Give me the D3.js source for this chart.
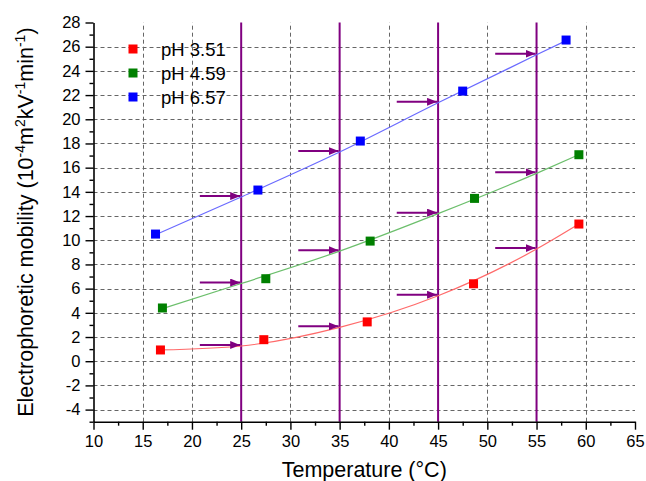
<!DOCTYPE html>
<html>
<head>
<meta charset="utf-8">
<script src="https://cdn.jsdelivr.net/npm/d3@7"></script>
<style>
  html, body { margin: 0; padding: 0; background: #fff; }
  svg { display: block; font-family: "Liberation Sans", Arial, sans-serif; }
</style>
</head>
<body>
<svg id="chart" width="646" height="481"></svg>
<script>
// ---- data ----
const seriesNames = ["pH 3.51", "pH 4.59", "pH 6.57"];
const seriesColors = ["#ff0000", "#008000", "#0000ff"];
const fitColors = ["#ff6a6a", "#6cbf6c", "#6a6aff"];

const tempRed = [16.8, 27.3, 37.8, 48.6, 59.3];
const mobRed = [0.93, 1.78, 3.25, 6.4, 11.34];
const tempGreen = [17.0, 27.5, 38.1, 48.7, 59.3];
const mobGreen = [4.4, 6.82, 9.93, 13.46, 17.07];
const tempBlue = [16.3, 26.7, 37.1, 47.5, 58.0];
const mobBlue = [10.51, 14.15, 18.2, 22.33, 26.55];

const fitTempRed = [16.8, 25, 35, 45, 55, 59.3];
const fitMobRed = [0.93, 1.26, 2.8, 5.41, 9.27, 11.34];
const fitTempGreen = [17.0, 25, 35, 45, 55, 59.3];
const fitMobGreen = [4.35, 6.42, 9.1, 12.2, 15.53, 17.07];
const fitTempBlue = [16.3, 25, 35, 45, 55, 58.0];
const fitMobBlue = [10.45, 13.57, 17.29, 21.36, 25.33, 26.5];

const markerTemps = [25, 35, 45, 55];
const arrowLength = 4.2; // in temperature units

const xTickValues = [10, 15, 20, 25, 30, 35, 40, 45, 50, 55, 60, 65];
const xMinorTicks = [12.5, 17.5, 22.5, 27.5, 32.5, 37.5, 42.5, 47.5, 52.5, 57.5, 62.5];
const yTickValues = [-4, -2, 0, 2, 4, 6, 8, 10, 12, 14, 16, 18, 20, 22, 24, 26, 28];
const yMinorTicks = [-5, -3, -1, 1, 3, 5, 7, 9, 11, 13, 15, 17, 19, 21, 23, 25, 27];
const xGridValues = [15, 20, 30, 40, 50, 60];
const yGridValues = [-4, -2, 0, 2, 4, 6, 8, 10, 12, 14, 16, 18, 20, 22, 24, 26];

// ---- setup ----
const svg = d3.select("#chart");
const x = d3.scaleLinear().domain([10, 65]).range([93.5, 635]);
const y = d3.scaleLinear().domain([-5, 28]).range([421.7, 22.5]);

const purple = "#800080";

// grid
const grid = svg.append("g").attr("stroke", "#666").attr("stroke-width", 1)
  .attr("stroke-dasharray", "4,3").attr("fill", "none");
grid.selectAll("line.h").data(yGridValues).join("line").attr("class", "h")
  .attr("x1", x(10)).attr("x2", x(65))
  .attr("y1", d => Math.round(y(d)) + 0.5).attr("y2", d => Math.round(y(d)) + 0.5);
grid.selectAll("line.v").data(xGridValues).join("line").attr("class", "v")
  .attr("x1", d => Math.round(x(d)) + 0.5).attr("x2", d => Math.round(x(d)) + 0.5)
  .attr("y1", y(-5)).attr("y2", y(28));

// purple vertical lines
svg.append("g").selectAll("line").data(markerTemps).join("line")
  .attr("x1", d => x(d)).attr("x2", d => x(d))
  .attr("y1", y(-5)).attr("y2", y(28))
  .attr("stroke", purple).attr("stroke-width", 2);

// fit curves
const fits = [
  [fitTempRed, fitMobRed],
  [fitTempGreen, fitMobGreen],
  [fitTempBlue, fitMobBlue]
];
const lineGen = d3.line().x(d => x(d[0])).y(d => y(d[1])).curve(d3.curveMonotoneX);
fits.forEach((f, i) => {
  const pts = f[0].map((t, j) => [t, f[1][j]]);
  svg.append("path").datum(pts).attr("d", lineGen)
    .attr("fill", "none").attr("stroke", fitColors[i]).attr("stroke-width", 1.2);
});

// arrows
const defs = svg.append("defs");
defs.append("marker").attr("id", "ah").attr("viewBox", "0 0 10 8")
  .attr("refX", 10).attr("refY", 4).attr("markerWidth", 10).attr("markerHeight", 8)
  .attr("markerUnits", "userSpaceOnUse").attr("orient", "auto")
  .append("path").attr("d", "M0,0 L10,4 L0,8 Z").attr("fill", purple);

const arrowData = [];
fits.forEach(f => {
  markerTemps.forEach(t => {
    const idx = f[0].indexOf(t);
    arrowData.push({ t: t, v: f[1][idx] });
  });
});
svg.append("g").selectAll("line").data(arrowData).join("line")
  .attr("x1", d => x(d.t - arrowLength)).attr("x2", d => x(d.t) - 1)
  .attr("y1", d => y(d.v) - 1).attr("y2", d => y(d.v) - 1)
  .attr("stroke", purple).attr("stroke-width", 2)
  .attr("marker-end", "url(#ah)");

// points
const pointSets = [
  [tempRed, mobRed],
  [tempGreen, mobGreen],
  [tempBlue, mobBlue]
];
const sq = 9;
pointSets.forEach((p, i) => {
  const pts = p[0].map((t, j) => [t, p[1][j]]);
  svg.append("g").selectAll("rect").data(pts).join("rect")
    .attr("x", d => x(d[0]) - sq / 2).attr("y", d => y(d[1]) - sq / 2)
    .attr("width", sq).attr("height", sq)
    .attr("fill", seriesColors[i]);
});

// axes
const fontSize = 16.5;
const fmt = d => String(d);
svg.append("g").attr("transform", `translate(0,${y(-5)})`)
  .call(d3.axisBottom(x).tickValues(xTickValues).tickSize(8).tickSizeOuter(0).tickPadding(6)
    .tickFormat(fmt));
svg.append("g").attr("transform", `translate(0,${y(-5)})`)
  .call(d3.axisBottom(x).tickValues(xMinorTicks).tickSize(4).tickSizeOuter(0).tickFormat(""))
  .select(".domain").remove();
svg.append("g").attr("transform", `translate(${x(10)},0)`)
  .call(d3.axisLeft(y).tickValues(yTickValues).tickSize(8).tickSizeOuter(0).tickPadding(5)
    .tickFormat(fmt));
svg.append("g").attr("transform", `translate(${x(10)},0)`)
  .call(d3.axisLeft(y).tickValues(yMinorTicks).tickSize(4).tickSizeOuter(0).tickFormat(""))
  .select(".domain").remove();

svg.selectAll(".domain").attr("stroke", "#000").attr("stroke-width", 1.6);
svg.selectAll(".tick line").attr("stroke", "#000").attr("stroke-width", 1.4);
svg.selectAll(".tick text").attr("font-size", fontSize).attr("fill", "#000")
  .attr("font-family", "'Liberation Sans', Arial, sans-serif");

// axis titles
svg.append("text").attr("x", (x(10) + x(65)) / 2).attr("y", 477)
  .attr("text-anchor", "middle").attr("font-size", 21.5).attr("fill", "#000")
  .text("Temperature (°C)");

const yt = svg.append("text").attr("transform", `translate(33,${(y(-5) + y(28)) / 2}) rotate(-90)`)
  .attr("text-anchor", "middle").attr("font-size", 21.5).attr("fill", "#000");
const parts = [
  ["Electrophoretic mobility (10", false],
  ["-4", true], ["m", false], ["2", true], ["kV", false], ["-1", true],
  ["min", false], ["-1", true], [")", false]
];
let raised = false;
parts.forEach(p => {
  const ts = yt.append("tspan").text(p[0]);
  if (p[1]) {
    ts.attr("font-size", 14).attr("dy", raised ? 0 : -8.5);
    raised = true;
  } else {
    if (raised) ts.attr("dy", 8.5);
    raised = false;
  }
});

// legend
const legendY = [49, 73, 97];
const legend = svg.append("g");
seriesNames.forEach((name, i) => {
  legend.append("rect").attr("x", 133 - 4.5).attr("y", legendY[i] - 4.5)
    .attr("width", 9).attr("height", 9).attr("fill", seriesColors[i]);
  legend.append("text").attr("x", 161).attr("y", legendY[i] + 6.5)
    .attr("font-size", 18.5).attr("fill", "#000").text(name);
});
</script>
</body>
</html>
